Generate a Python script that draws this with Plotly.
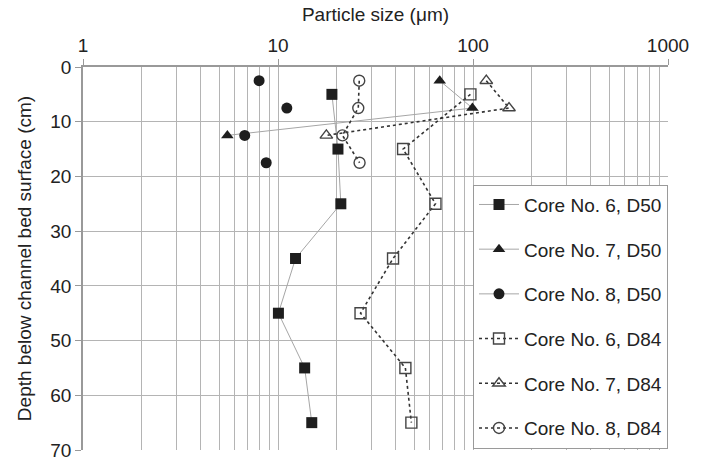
import plotly.graph_objects as go

# Depths (cm)
depth_c6 = [5, 15, 25, 35, 45, 55, 65]
depth_c7 = [2.5, 7.5, 12.5]
depth_c8 = [2.5, 7.5, 12.5, 17.5]

# Particle sizes (um)
c6_d50 = [18.9, 20.3, 21.0, 12.3, 10.05, 13.7, 14.9]
c7_d50 = [67.5, 99.3, 5.5]
c8_d50 = [8.0, 11.1, 6.75, 8.7]
c6_d84 = [97, 43.8, 64.2, 38.9, 26.5, 45, 48.3]
c7_d84 = [117, 153, 17.7]
c8_d84 = [26.1, 25.8, 21.4, 26.2]

names = ["Core No. 6, D50", "Core No. 7, D50", "Core No. 8, D50",
         "Core No. 6, D84", "Core No. 7, D84", "Core No. 8, D84"]

FONT = "Liberation Sans, Arial, sans-serif"
DARK = "#1e1e1e"
OPEN = "#444444"
SOLID_LINE = "#a6a6a6"
DOT_LINE = "#333333"
GRID = "#b4b4b4"


def gapped(vals):
    # insert gaps so points are not joined (Core 8 D50 has no connecting line)
    out = []
    for v in vals:
        out += [v, None]
    return out[:-1]


fig = go.Figure()

series = [
    (c6_d50, depth_c6, "square", DARK, SOLID_LINE, "solid", 1, False),
    (c7_d50, depth_c7, "triangle-up", DARK, SOLID_LINE, "solid", 1, False),
    (c8_d50, depth_c8, "circle", DARK, SOLID_LINE, "solid", 1, True),
    (c6_d84, depth_c6, "square-open", OPEN, DOT_LINE, "dot", 1.6, False),
    (c7_d84, depth_c7, "triangle-up-open", OPEN, DOT_LINE, "dot", 1.6, False),
    (c8_d84, depth_c8, "circle-open", OPEN, DOT_LINE, "dot", 1.6, False),
]

for i, (xv, yv, sym, mcol, lcol, dash, lw, gap) in enumerate(series):
    xs = gapped(xv) if gap else xv
    ys = gapped(yv) if gap else yv
    fig.add_trace(go.Scatter(
        x=xs, y=ys, name=names[i], mode="lines+markers",
        connectgaps=False,
        line=dict(color=lcol, width=lw, dash=dash),
        marker=dict(symbol=sym, size=11, color=mcol,
                    line=dict(color=mcol, width=1.4 if "open" in sym else 0)),
        legendgroup=f"g{i}",
    ))

fig.update_layout(
    width=706, height=472,
    margin=dict(l=83, r=38, t=67, b=11),
    paper_bgcolor="white", plot_bgcolor="white",
    font=dict(family=FONT, size=19, color="#222"),
    showlegend=True,
    legend=dict(
        x=1.0, xanchor="right", y=(461 - 188) / 394, yanchor="top",
        bgcolor="white", bordercolor="#9a9a9a", borderwidth=1,
        font=dict(family=FONT, size=19, color="#222"),
        tracegroupgap=17, itemwidth=40,
    ),
    xaxis=dict(
        type="log", range=[0, 3], side="top",
        title=dict(text="Particle size (\u03bcm)", font=dict(size=19), standoff=8),
        tickvals=[1, 10, 100, 1000], ticktext=["1", "10", "100", "1000"],
        ticks="outside", ticklen=6, tickcolor="#999",
        showline=True, linecolor="#999", linewidth=1.5,
        showgrid=True, gridcolor=GRID, gridwidth=1,
        minor=dict(dtick="D1", showgrid=True, gridcolor=GRID, gridwidth=1, ticks=""),
        zeroline=False,
    ),
    yaxis=dict(
        range=[70, 0], dtick=10,
        title=dict(text="Depth below channel bed surface (cm)", font=dict(size=19), standoff=14),
        ticks="outside", ticklen=6, tickcolor="#999",
        showline=True, linecolor="#999", linewidth=1.5,
        showgrid=True, gridcolor=GRID, gridwidth=1,
        zeroline=False,
    ),
)

fig.write_html("out.html")
